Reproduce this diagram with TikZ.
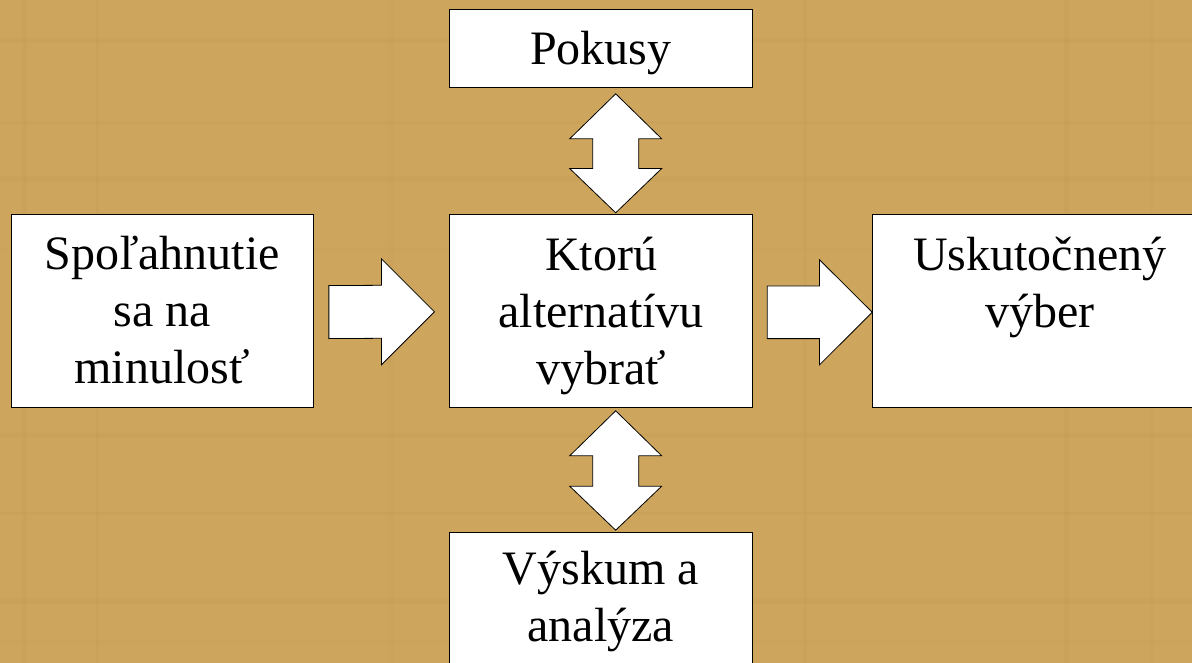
\documentclass[tikz,border=0pt]{standalone}
\usepackage{fontspec}
\setmainfont{Liberation Serif}
\usetikzlibrary{calc}
\definecolor{tan}{RGB}{205,165,92}
\definecolor{tanstreak}{RGB}{188,148,78}
\begin{document}
\begin{tikzpicture}[x=1pt,y=-1pt,
  box/.style={draw=black, fill=white, line width=1pt, inner sep=0pt},
  txt/.style={anchor=base, inner sep=0pt, font=\fontsize{48}{57}\selectfont},
  blockarrow/.style={draw=black, fill=white, line width=0.8pt, line join=miter}]

% backdrop with faint woven streaks
\fill[tan] (0,0) rectangle (1192,663);
\foreach \yy/\hh/\op in {38/5/0.15,121/3/0.12,176/6/0.15,247/4/0.1,433/5/0.15,512/3/0.12,598/6/0.15,640/4/0.1}
  \fill[tanstreak, opacity=\op] (0,\yy) rectangle (1192,\yy+\hh);
\foreach \xx/\ww/\op in {22/5/0.12,96/3/0.15,388/6/0.1,803/4/0.12,1064/5/0.15,1150/3/0.1}
  \fill[tanstreak, opacity=\op] (\xx,0) rectangle (\xx+\ww,663);
\useasboundingbox (0,0) rectangle (1192,663);

% boxes
\node[box, minimum width=302.8pt, minimum height=78pt]    (pok)   at (600.9,48.3)  {};
\node[box, minimum width=302.3pt, minimum height=193.5pt] (left)  at (162.2,311.1) {};
\node[box, minimum width=302.3pt, minimum height=193pt]   (mid)   at (601.1,310.8) {};
\node[box, minimum width=334.3pt, minimum height=193pt]   (right) at (1039.9,310.8) {};
\node[box, minimum width=302.8pt, minimum height=194pt]   (bot)   at (600.9,629.3) {};

% labels, first baseline about 56pt below each box top
\node[txt] at ($(pok.north)+(0,56)$)   {\parbox[t]{300pt}{\centering Pokusy}};
\node[txt] at ($(left.north)+(0,56)$)  {\parbox[t]{300pt}{\centering Spoľahnutie\\sa na\\minulosť}};
\node[txt] at ($(mid.north)+(0,57)$)   {\parbox[t]{300pt}{\centering Ktorú\\alternatívu\\vybrať}};
\node[txt] at ($(right.north)+(0,57)$) {\parbox[t]{330pt}{\centering Uskutočnený\\výber}};
\node[txt] at ($(bot.north)+(0,53)$)   {\parbox[t]{300pt}{\centering Výskum a\\analýza}};

% right-pointing block arrows
\coordinate (a1s) at ($(left.east)+(15,1)$);
\coordinate (a1t) at ($(mid.west)+(-15,1)$);
\draw[blockarrow] ($(a1s)+(0,-26.5)$) -- ($(a1t)+(-53,-26.5)$) -- ($(a1t)+(-53,-53)$)
  -- (a1t) -- ($(a1t)+(-53,53)$) -- ($(a1t)+(-53,26.5)$) -- ($(a1s)+(0,26.5)$) -- cycle;

\coordinate (a2s) at ($(mid.east)+(14.4,1.5)$);
\coordinate (a2t) at ($(right.west)+(0,1.5)$);
\draw[blockarrow] ($(a2s)+(0,-26.3)$) -- ($(a2t)+(-52.7,-26.3)$) -- ($(a2t)+(-52.7,-52.5)$)
  -- (a2t) -- ($(a2t)+(-52.7,52.5)$) -- ($(a2t)+(-52.7,26.3)$) -- ($(a2s)+(0,26.3)$) -- cycle;

% vertical double block arrows
\coordinate (v1a) at ($(pok.south)+(14.8,6)$);
\coordinate (v1b) at ($(mid.north)+(14.6,-1)$);
\draw[blockarrow] (v1a) -- ($(v1a)+(46,45)$) -- ($(v1a)+(23,45)$) -- ($(v1b)+(23,-44.3)$)
  -- ($(v1b)+(46,-44.3)$) -- (v1b) -- ($(v1b)+(-46,-44.3)$) -- ($(v1b)+(-23,-44.3)$)
  -- ($(v1a)+(-23,45)$) -- ($(v1a)+(-46,45)$) -- cycle;

\coordinate (v2a) at ($(mid.south)+(14.6,3)$);
\coordinate (v2b) at ($(bot.north)+(14.8,-1.6)$);
\draw[blockarrow] (v2a) -- ($(v2a)+(46,45)$) -- ($(v2a)+(23,45)$) -- ($(v2b)+(23,-44)$)
  -- ($(v2b)+(46,-44)$) -- (v2b) -- ($(v2b)+(-46,-44)$) -- ($(v2b)+(-23,-44)$)
  -- ($(v2a)+(-23,45)$) -- ($(v2a)+(-46,45)$) -- cycle;
\end{tikzpicture}
\end{document}
